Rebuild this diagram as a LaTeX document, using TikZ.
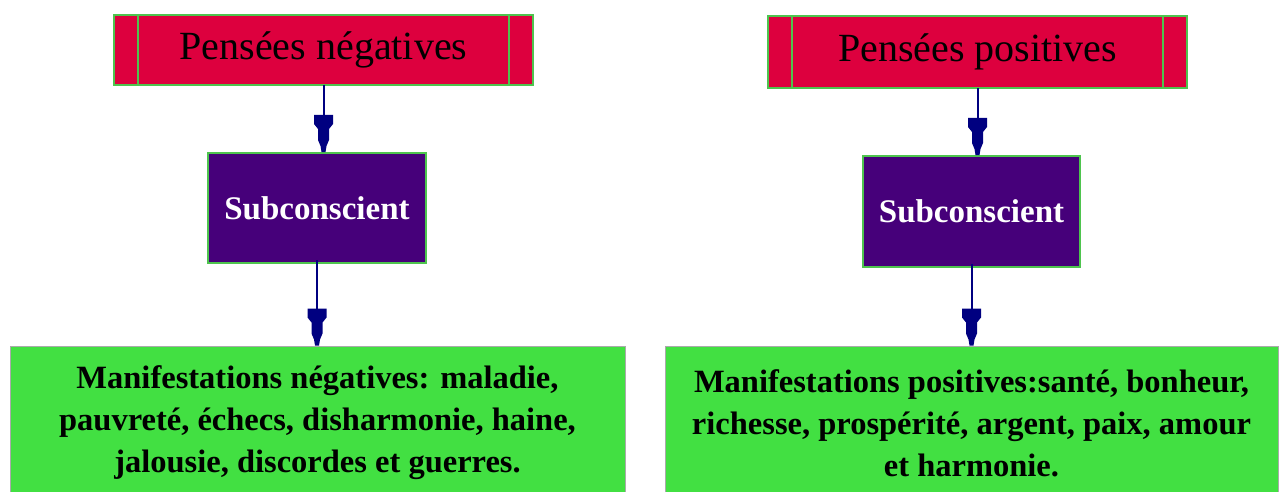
\documentclass[tikz,border=0pt]{standalone}
\usepackage{fontspec}
\setmainfont{Liberation Serif}
\usetikzlibrary{arrows.meta}

\definecolor{titlered}{RGB}{221,0,62}
\definecolor{rimgreen}{RGB}{78,196,78}
\definecolor{subpurple}{RGB}{70,0,122}
\definecolor{boxgreen}{RGB}{66,224,66}
\definecolor{arrownavy}{RGB}{0,0,128}
\definecolor{rimgrey}{RGB}{170,170,170}

% tack-shaped arrow head: wide collar, narrow shank, short point
\pgfdeclarearrow{
  name = Tack,
  setup code = {
    \pgfarrowssettipend{0pt}
    \pgfarrowssetlineend{-30pt}
    \pgfarrowshullpoint{0pt}{0pt}
    \pgfarrowshullpoint{-37pt}{9.5pt}
    \pgfarrowshullpoint{-37pt}{-9.5pt}
  },
  drawing code = {
    \pgfpathmoveto{\pgfqpoint{0pt}{2pt}}
    \pgfpathlineto{\pgfqpoint{-6pt}{3pt}}
    \pgfpathlineto{\pgfqpoint{-12pt}{5.5pt}}
    \pgfpathlineto{\pgfqpoint{-23pt}{5.5pt}}
    \pgfpathlineto{\pgfqpoint{-28pt}{9.5pt}}
    \pgfpathlineto{\pgfqpoint{-37pt}{9.5pt}}
    \pgfpathlineto{\pgfqpoint{-37pt}{-9.5pt}}
    \pgfpathlineto{\pgfqpoint{-28pt}{-9.5pt}}
    \pgfpathlineto{\pgfqpoint{-23pt}{-5.5pt}}
    \pgfpathlineto{\pgfqpoint{-12pt}{-5.5pt}}
    \pgfpathlineto{\pgfqpoint{-6pt}{-3pt}}
    \pgfpathlineto{\pgfqpoint{0pt}{-2pt}}
    \pgfpathclose
    \pgfusepathqfill
  }
}

\tikzset{
  titlebox/.style={draw=rimgreen, line width=2pt, fill=titlered,
    minimum width=419pt, minimum height=70pt, inner sep=0pt,
    font=\fontsize{40}{42}\selectfont, text=black},
  subbox/.style={draw=rimgreen, line width=2pt, fill=subpurple,
    minimum width=218pt, minimum height=110pt, inner sep=0pt,
    font=\bfseries\fontsize{33}{36}\selectfont, text=white},
  resultbox/.style={draw=rimgrey, line width=1pt, fill=boxgreen,
    minimum width=615pt, minimum height=154pt, inner sep=0pt,
    align=center, font=\bfseries\fontsize{32.5}{42}\selectfont, text=black},
  flow/.style={draw=arrownavy, line width=2pt, -{Tack}},
  rule/.style={draw=rimgreen, line width=1.6pt}
}

\begin{document}
\begin{tikzpicture}[x=1pt, y=-1pt]
  \useasboundingbox[fill=white] (0,0) rectangle (1282,492);
  \clip (0,0) rectangle (1282,492);

  % left column
  \node[titlebox] (negT) at (323.5,50) {Pensées négatives};
  \draw[rule] ([xshift=25pt]negT.north west) -- ([xshift=25pt]negT.south west);
  \draw[rule] ([xshift=-25pt]negT.north east) -- ([xshift=-25pt]negT.south east);
  \node[subbox] (negS) at (317,208) {Subconscient};
  \node[resultbox] (negR) at (317.5,423)
    {Manifestations négatives: maladie,\\pauvreté, échecs, disharmonie, haine,\\jalousie, discordes et guerres.};

  % right column
  \node[titlebox, minimum height=72pt] (posT) at (977.5,52) {Pensées positives};
  \draw[rule] ([xshift=25pt]posT.north west) -- ([xshift=25pt]posT.south west);
  \draw[rule] ([xshift=-25pt]posT.north east) -- ([xshift=-25pt]posT.south east);
  \node[subbox, minimum width=217pt, minimum height=111pt] (posS) at (971.5,211.5) {Subconscient};
  \node[resultbox, minimum width=613pt] (posR) at (971.5,423)
    {Manifestations positives:santé, bonheur,\\richesse, prospérité, argent, paix, amour\\et harmonie.};

  % connectors
  \draw[flow] ([yshift=1pt]negT.south) -- (negT.south |- negS.north);
  \draw[flow] ([yshift=4pt]negS.south) -- (negS.south |- negR.north);
  \draw[flow] ([yshift=1pt]posT.south) -- (posT.south |- posS.north);
  \draw[flow] ([yshift=4pt]posS.south) -- (posS.south |- posR.north);
\end{tikzpicture}
\end{document}
